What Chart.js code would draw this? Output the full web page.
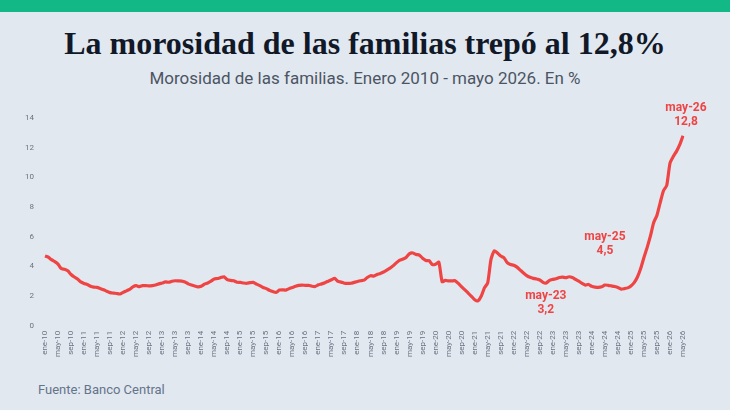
<!DOCTYPE html>
<html>
<head>
<meta charset="utf-8">
<script src="https://cdn.jsdelivr.net/npm/chart.js@4.4.1/dist/chart.umd.min.js"></script>
<style>
  html, body { margin: 0; padding: 0; }
  body { width: 730px; height: 410px; background: #e2e8f0; position: relative; overflow: hidden; font-family: Roboto, "Noto Sans", sans-serif; }
  .topbar { position: absolute; left: 0; top: 0; width: 730px; height: 12px; background: #12b886; }
  h1 { position: absolute; left: 0; top: 25px; width: 730px; margin: 0; text-align: center;
       font-family: "Liberation Serif", "DejaVu Serif", serif; font-weight: bold; font-size: 32px; color: #111827; }
  .sub { position: absolute; left: 0; top: 68px; width: 730px; text-align: center; font-size: 17px; color: #4b5563; }
  .chart-box { position: absolute; left: 0; top: 95px; width: 730px; height: 264px; }
  .source { position: absolute; left: 38px; top: 382px; font-size: 13px; color: #64748b; }
</style>
</head>
<body>
<div class="topbar"></div>
<h1>La morosidad de las familias trepó al 12,8%</h1>
<div class="sub">Morosidad de las familias. Enero 2010 - mayo 2026. En %</div>
<div class="chart-box"><canvas id="moraChart"></canvas></div>
<div class="source">Fuente: Banco Central</div>

<script>
var months = ["ene","feb","mar","abr","may","jun","jul","ago","sep","oct","nov","dic"];
var years = [10,11,12,13,14,15,16,17,18,19,20,21,22,23,24,25,26];

// morosidad mensual, %
var mora2010 = [4.70,4.62,4.45,4.32,4.15,3.85,3.80,3.70,3.45,3.28,3.15,2.95];
var mora2011 = [2.85,2.78,2.66,2.60,2.58,2.50,2.42,2.32,2.23,2.20,2.17,2.14];
var mora2012 = [2.25,2.35,2.45,2.62,2.70,2.63,2.70,2.70,2.68,2.70,2.74,2.82];
var mora2013 = [2.88,2.95,2.93,3.00,3.03,3.02,3.01,2.95,2.82,2.74,2.68,2.62];
var mora2014 = [2.66,2.80,2.88,3.00,3.15,3.18,3.25,3.30,3.10,3.05,3.03,2.93];
var mora2015 = [2.92,2.88,2.86,2.90,2.92,2.80,2.70,2.58,2.50,2.38,2.30,2.25];
var mora2016 = [2.40,2.42,2.40,2.50,2.58,2.66,2.72,2.74,2.72,2.72,2.66,2.64];
var mora2017 = [2.76,2.82,2.90,3.00,3.10,3.20,2.98,2.94,2.86,2.85,2.86,2.92];
var mora2018 = [2.98,3.03,3.07,3.25,3.37,3.34,3.45,3.52,3.62,3.75,3.88,4.05];
var mora2019 = [4.25,4.42,4.50,4.62,4.86,4.90,4.80,4.76,4.55,4.40,4.38,4.12];
var mora2020 = [4.15,4.28,2.97,3.05,3.02,3.02,3.03,2.85,2.62,2.41,2.20,1.98];
var mora2021 = [1.75,1.67,1.98,2.55,2.88,4.45,5.05,4.90,4.70,4.58,4.25,4.12];
var mora2022 = [4.08,3.95,3.75,3.55,3.37,3.26,3.19,3.15,3.08,2.92,2.88,3.06];
var mora2023 = [3.12,3.17,3.25,3.28,3.24,3.30,3.25,3.12,3.00,2.85,2.74,2.78];
var mora2024 = [2.65,2.60,2.58,2.62,2.74,2.72,2.68,2.64,2.58,2.47,2.50,2.55];
var mora2025 = [2.68,2.90,3.28,3.85,4.60,5.28,6.05,6.95,7.45,8.30,9.10,9.45];
var mora2026 = [10.95,11.40,11.75,12.20,12.80];

var yTicks = [0,2,4,6,8,10,12,14];

// notas sobre la linea
var noteIndex = [160, 184, 196];
var noteLabel = ["may-23", "may-25", "may-26"];
var noteValue = ["3,2", "4,5", "12,8"];

var moraData = [].concat(mora2010, mora2011, mora2012, mora2013, mora2014, mora2015, mora2016,
    mora2017, mora2018, mora2019, mora2020, mora2021, mora2022, mora2023, mora2024, mora2025, mora2026);

var labelData = [];
years.forEach(function(y){
    months.forEach(function(m){
        if (labelData.length < moraData.length) labelData.push(m + "-" + y);
    });
});

var RED = "#ef4444";

var notesPlugin = {
    id: "notes",
    afterDatasetsDraw: function(chart){
        var ctx = chart.ctx;
        var xs = chart.scales.x, ys = chart.scales.y;
        // desplazamiento de cada nota respecto a su punto
        var offsets = [[-20, 18], [-39, -20], [3, -28]];
        ctx.save();
        ctx.fillStyle = RED;
        ctx.textAlign = "center";
        ctx.textBaseline = "middle";
        ctx.font = "bold 12px Roboto, 'Noto Sans', sans-serif";
        noteIndex.forEach(function(idx, k){
            var px = xs.getPixelForValue(idx) + offsets[k][0];
            var py = ys.getPixelForValue(moraData[idx]) + offsets[k][1];
            ctx.fillText(noteLabel[k], px, py);
            ctx.fillText(noteValue[k], px, py + 14);
        });
        ctx.restore();
    }
};

new Chart(document.getElementById("moraChart"), {
    type: "line",
    data: {
        labels: labelData,
        datasets: [{
            data: moraData,
            borderColor: RED,
            borderWidth: 3.2,
            pointRadius: 0,
            tension: 0.2,
            fill: false
        }]
    },
    options: {
        responsive: true,
        maintainAspectRatio: false,
        animation: false,
        layout: { padding: { left: 22, right: 47, top: 23, bottom: 0 } },
        plugins: { legend: { display: false }, tooltip: { enabled: false } },
        scales: {
            x: {
                offset: false,
                grid: { display: false, drawTicks: true, tickLength: 3, color: "#cbd5e1" },
                border: { display: false },
                ticks: {
                    autoSkip: false,
                    maxRotation: 90,
                    minRotation: 90,
                    padding: 2,
                    color: "#6b7280",
                    font: { size: 8, family: "Roboto, 'Noto Sans', sans-serif" },
                    callback: function(v, i){ return i % 4 === 0 ? labelData[i] : null; }
                }
            },
            y: {
                min: 0,
                max: 14,
                afterBuildTicks: function(axis){ axis.ticks = yTicks.map(function(v){ return {value: v}; }); },
                grid: { display: false },
                border: { display: false },
                ticks: {
                    padding: 3,
                    color: "#6b7280",
                    font: { size: 8, family: "Roboto, 'Noto Sans', sans-serif" }
                }
            }
        }
    },
    plugins: [notesPlugin]
});
</script>
</body>
</html>
